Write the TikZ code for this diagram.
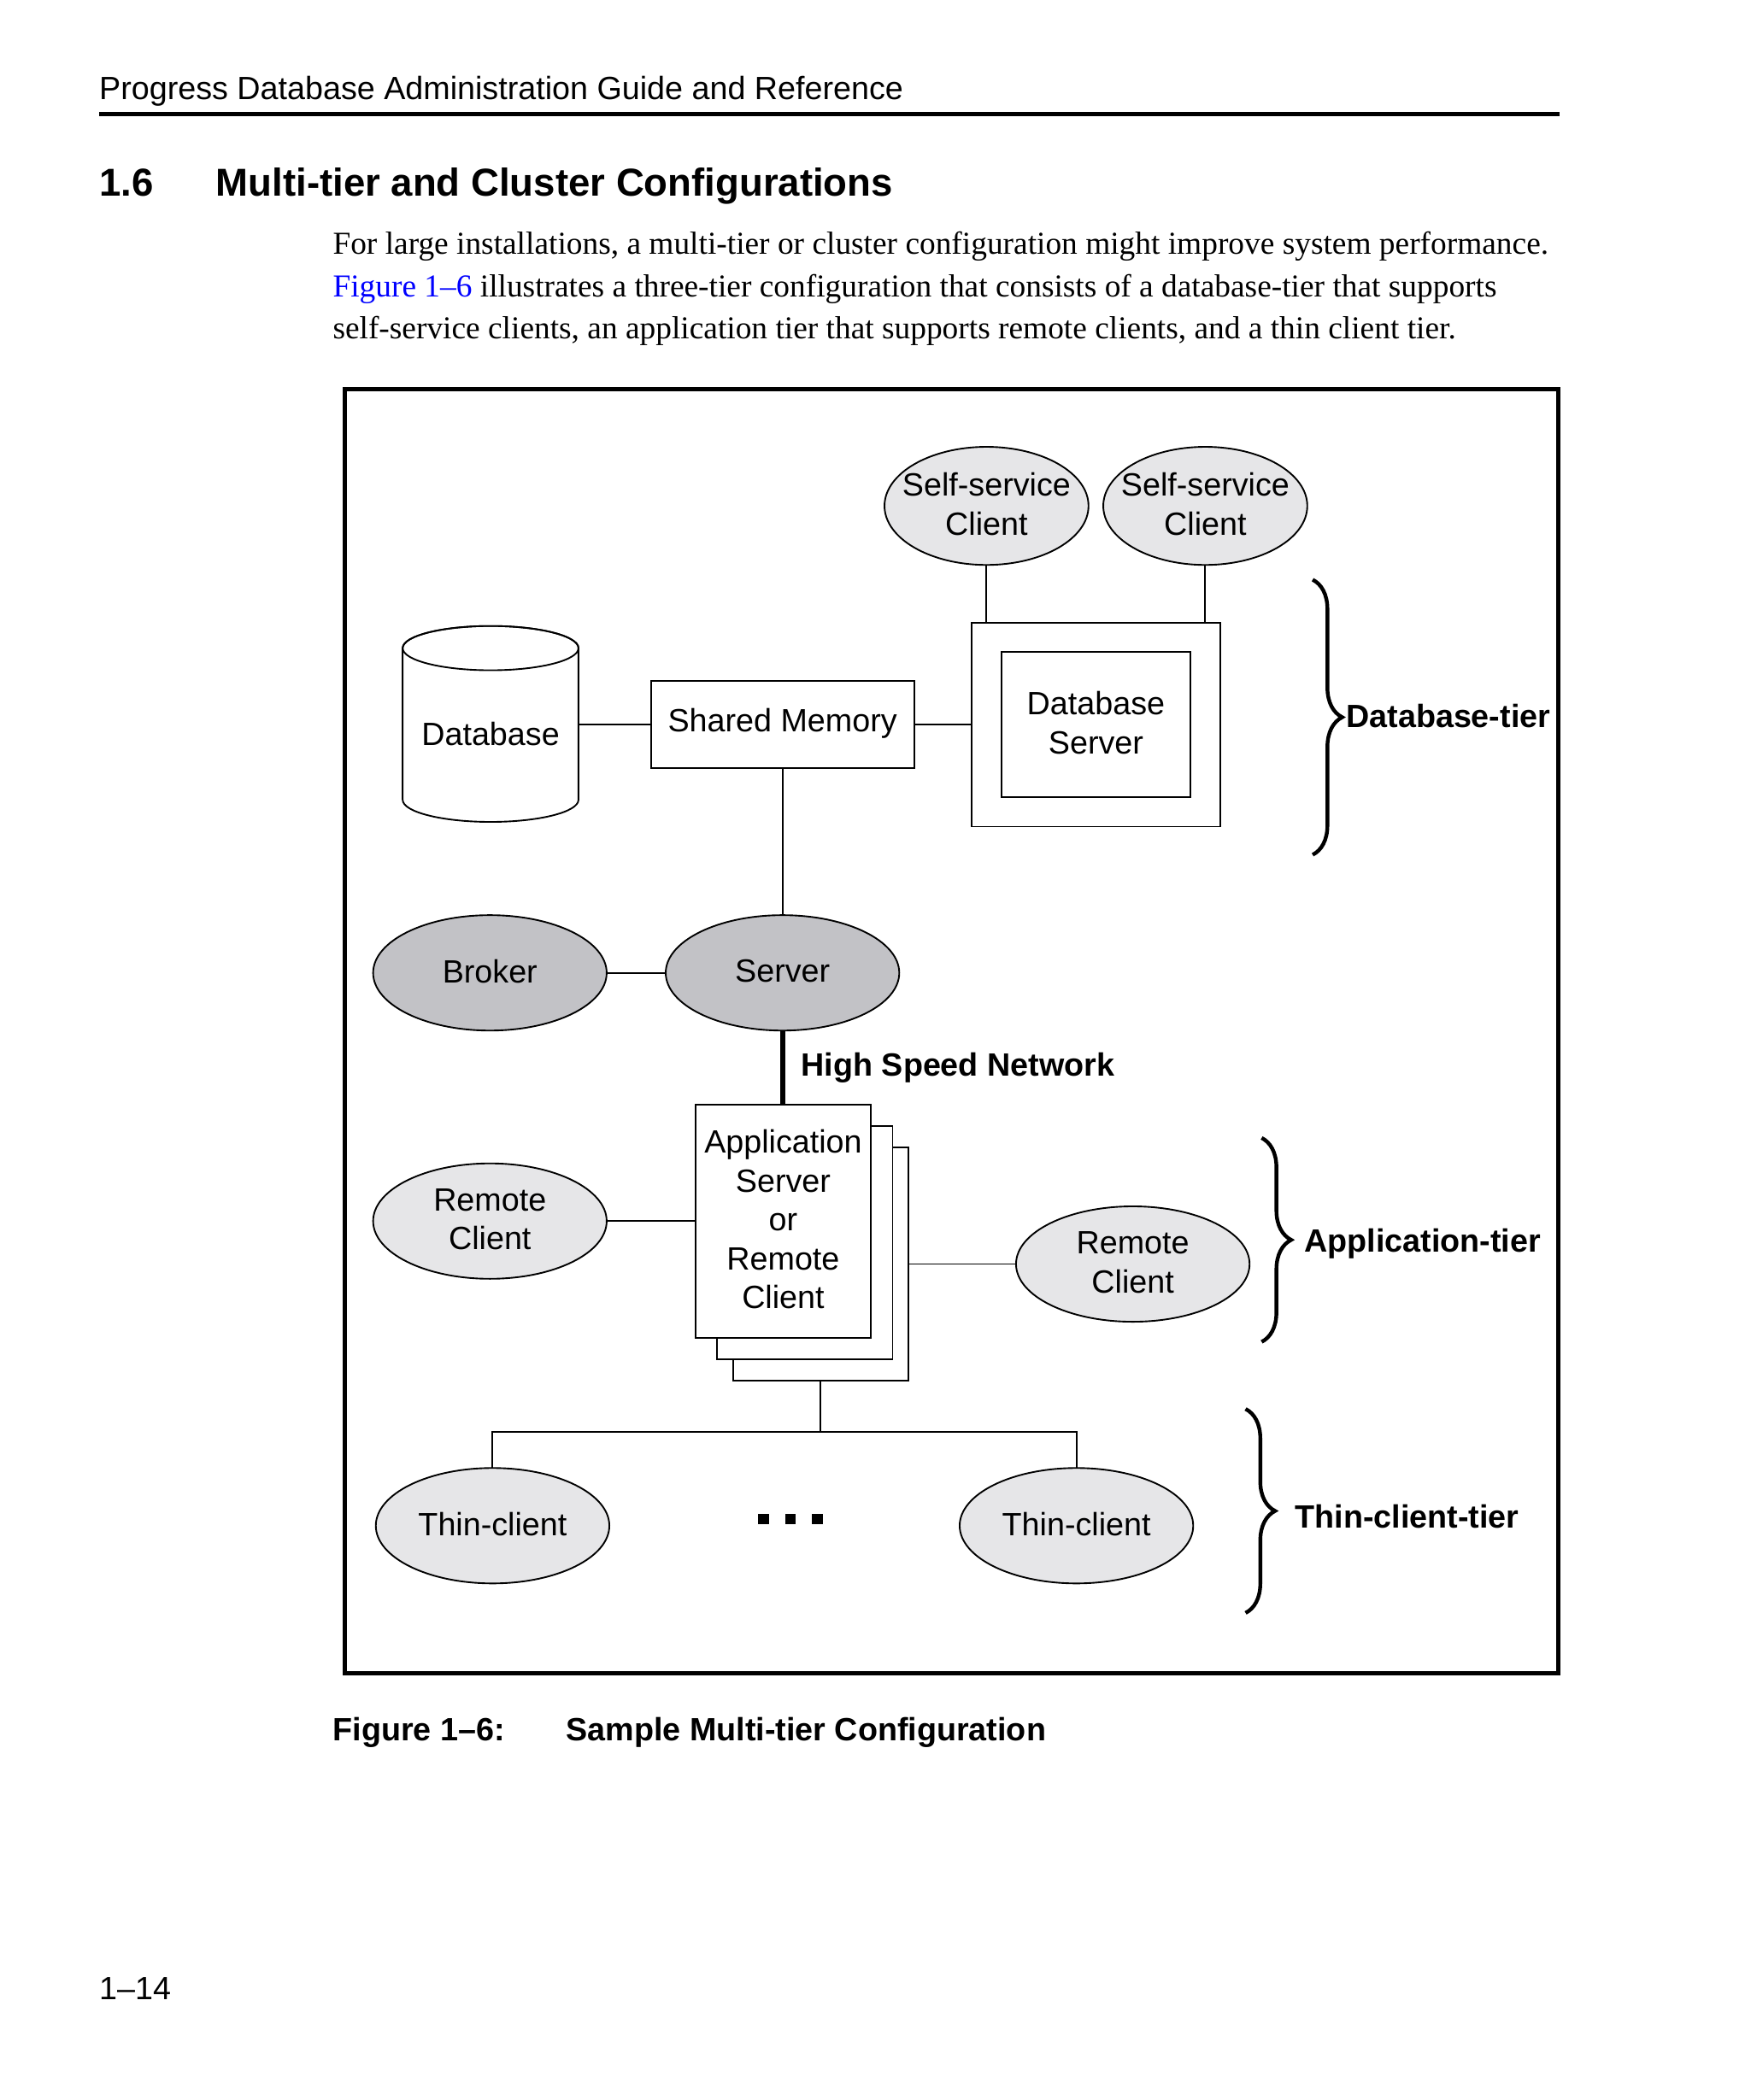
\documentclass[tikz,border=0pt]{standalone}
\usepackage{fontspec}
\setmainfont{Liberation Serif}
\setsansfont{Liberation Sans}
\usetikzlibrary{shapes.geometric,decorations.pathreplacing}
\definecolor{lightfill}{RGB}{230,230,232}
\definecolor{darkfill}{RGB}{194,194,198}
\definecolor{linkblue}{RGB}{0,0,255}
\begin{document}
\begin{tikzpicture}[x=0.5pt,y=-0.5pt,
  every node/.style={inner sep=0pt, outer sep=0pt},
  dtext/.style={font=\sffamily\fontsize{12}{14.5}\selectfont, align=center, yshift=0.6pt},
  lightell/.style={ellipse, draw, line width=0.6pt, fill=lightfill, minimum width=87pt, minimum height=43pt},
  darkell/.style={ellipse, draw, line width=0.6pt, fill=darkfill, minimum width=87pt, minimum height=43pt},
  box/.style={draw, line width=0.6pt, fill=white},
  conn/.style={line width=0.6pt},
  tierbrace/.style={decorate, decoration={brace, amplitude=11pt}, line width=1.4pt},
  boldlabel/.style={font=\sffamily\bfseries\fontsize{12}{14.5}\selectfont, anchor=base west},
  plainlabel/.style={font=\sffamily\fontsize{12}{14.5}\selectfont, anchor=base west},
  bodytext/.style={font=\rmfamily\fontsize{11.9}{16}\selectfont, anchor=base west},
]
\useasboundingbox (0,0) rectangle (1304,1565);
\fill[white] (0,0) rectangle (1304,1565);

% page header
\node[plainlabel] (hdr) at (74,74) {Progress Database Administration Guide and Reference};
\draw[line width=1.8pt] (74,85) -- (1162,85);

% section title
\node[font=\sffamily\bfseries\fontsize{14.5}{17}\selectfont, anchor=base west] (secnum) at (74,146) {1.6};
\node[font=\sffamily\bfseries\fontsize{14.5}{17}\selectfont, anchor=base west] (sectitle) at (161,146) {Multi-tier and Cluster Configurations};

% body text
\node[bodytext] (body1) at (248,189.5) {For large installations, a multi-tier or cluster configuration might improve system performance.};
\node[bodytext] (body2) at (248,221) {\textcolor{linkblue}{Figure 1–6} illustrates a three-tier configuration that consists of a database-tier that supports};
\node[bodytext] (body3) at (248,252.5) {self-service clients, an application tier that supports remote clients, and a thin client tier.};

% figure frame
\draw[line width=1.5pt] (257,290) rectangle (1161,1247);

% self-service clients
\node[lightell, minimum width=76pt, minimum height=44pt] (ss1) at (735,377) {};
\node[dtext] at (ss1) {Self-service\\Client};
\node[lightell, minimum width=76pt, minimum height=44pt] (ss2) at (898,377) {};
\node[dtext] at (ss2) {Self-service\\Client};

% database server
\node[box, minimum width=92.5pt, minimum height=76pt] (dbs) at (816.5,540) {};
\node[box, minimum width=70.5pt, minimum height=54pt] (dbsin) at (816.5,540) {};
\node[dtext] at (dbsin) {Database\\Server};

% shared memory
\node[box, minimum width=98pt, minimum height=32.5pt] (sm) at (583,540) {};
\node[dtext] at (sm) {Shared Memory};

% database cylinder
\node[minimum width=65.5pt, minimum height=73pt] (db) at (365.5,540) {};
\draw[conn, fill=white] (300,483) -- (300,596)
  arc[start angle=180, end angle=0, x radius=65.5, y radius=16.5] -- (431,483)
  arc[start angle=360, end angle=180, x radius=65.5, y radius=16.5] -- cycle;
\draw[conn] (365.5,483) ellipse [x radius=65.5, y radius=16.5];
\node[dtext] at (365.5,548) {Database};

% broker and server
\node[darkell] (broker) at (365,725) {};
\node[dtext] at (broker) {Broker};
\node[darkell] (server) at (583,725) {};
\node[dtext] at (server) {Server};

% application server stack
\node[box, minimum width=65.5pt, minimum height=87pt] (app3) at (611.5,942) {};
\node[box, minimum width=65.5pt, minimum height=87pt] (app2) at (599.5,926) {};
\node[box, minimum width=65.5pt, minimum height=87pt] (app) at (583.5,910) {};
\node[dtext] at (app) {Application\\Server\\or\\Remote\\Client};

% remote clients
\node[lightell] (rcl) at (365,910) {};
\node[dtext] at (rcl) {Remote\\Client};
\node[lightell] (rcr) at (844,942) {};
\node[dtext] at (rcr) {Remote\\Client};

% thin clients
\node[lightell] (tc1) at (367,1137) {};
\node[dtext] at (tc1) {Thin-client};
\node[lightell] (tc2) at (802,1137) {};
\node[dtext] at (tc2) {Thin-client};
\fill (565,1128) rectangle (573,1136);
\fill (585,1128) rectangle (593,1136);
\fill (605,1128) rectangle (613,1136);

% connectors
\draw[conn] (db.east) -- (sm.west);
\draw[conn] (sm.east) -- (dbs.west);
\draw[conn] (ss1.south) -- (ss1.south |- dbs.north);
\draw[conn] (ss2.south) -- (ss2.south |- dbs.north);
\draw[conn] (sm.south) -- (server.north);
\draw[conn] (broker.east) -- (server.west);
\draw[line width=2pt] (server.south) -- (server.south |- app.north);
\node[boldlabel] (hsn) at (597,802) {High Speed Network};
\draw[conn] (rcl.east) -- (app.west);
\draw[conn] (app3.east) -- (rcr.west);
\coordinate (junc) at (611.5,1067);
\draw[conn] (app3.south) -- (junc);
\draw[conn] (tc1.north) -- (tc1.north |- junc) -- (tc2.north |- junc) -- (tc2.north);

% tier braces
\draw[tierbrace] (978,432) -- (978,637);
\node[boldlabel] (dbtier) at (1003,542) {Database-tier};
\draw[tierbrace] (940,848) -- (940,1000);
\node[boldlabel] (apptier) at (972,933) {Application-tier};
\draw[tierbrace] (928,1050) -- (928,1202);
\node[boldlabel] (thintier) at (965,1138.5) {Thin-client-tier};

% caption and page number
\node[boldlabel] (figlbl) at (248,1297) {Figure 1–6:};
\node[boldlabel] (figcap) at (422,1297) {Sample Multi-tier Configuration};
\node[plainlabel] (pgnum) at (74,1490) {1–14};
\end{tikzpicture}
\end{document}
